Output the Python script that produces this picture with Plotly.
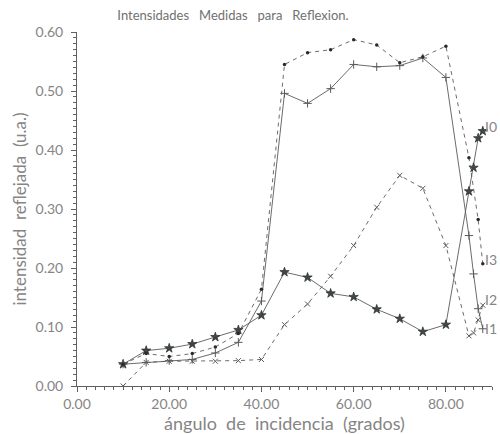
import plotly.graph_objects as go

# Angles of incidence (degrees) for each measured series
ang_i0 = [10, 15, 20, 25, 30, 35, 40, 45, 50, 55, 60, 65, 70, 75, 80, 85, 86, 87, 88]
ang_i1 = [10, 15, 20, 25, 30, 35, 40, 45, 50, 55, 60, 65, 70, 75, 80, 85, 86, 87, 88]
ang_i2 = [10, 15, 20, 25, 30, 35, 40, 45, 50, 55, 60, 65, 70, 75, 80, 85, 86, 87, 88]
ang_i3 = [10, 15, 20, 25, 30, 35, 40, 45, 50, 55, 60, 65, 70, 75, 80, 85, 87, 88]

# Reflected intensities (arbitrary units)
i0 = [0.037, 0.060, 0.064, 0.071, 0.083, 0.095, 0.120, 0.193, 0.184, 0.157,
      0.151, 0.130, 0.114, 0.092, 0.104, 0.330, 0.370, 0.420, 0.432]
i1 = [0.037, 0.040, 0.043, 0.045, 0.056, 0.074, 0.144, 0.496, 0.479, 0.504,
      0.545, 0.541, 0.543, 0.556, 0.523, 0.255, 0.190, 0.131, 0.097]
i2 = [0.000, 0.040, 0.042, 0.042, 0.042, 0.043, 0.045, 0.104, 0.139, 0.186,
      0.238, 0.303, 0.357, 0.335, 0.238, 0.085, 0.090, 0.112, 0.137]
i3 = [0.037, 0.055, 0.050, 0.055, 0.066, 0.089, 0.164, 0.545, 0.565, 0.570,
      0.587, 0.578, 0.548, 0.558, 0.576, 0.387, 0.282, 0.207]

# Series end labels and their vertical positions
end_labels = ["I0", "I1", "I2", "I3"]
end_label_y = [0.44, 0.098, 0.146, 0.215]

line_col = "#5a5a5a"
mark_col = "#333833"
text_col = "#858585"
font_fam = "Lato, 'Open Sans', sans-serif"

fig = go.Figure()

fig.add_trace(go.Scatter(
    x=ang_i0, y=i0, mode="lines+markers",
    line=dict(color=line_col, width=0.9),
    marker=dict(symbol="star", size=7, color="#3d4a40",
                line=dict(color="#2a2a2a", width=0.7)),
))
fig.add_trace(go.Scatter(
    x=ang_i1, y=i1, mode="lines+markers",
    line=dict(color=line_col, width=0.9),
    marker=dict(symbol="cross-thin-open", size=6,
                line=dict(color=mark_col, width=1)),
))
fig.add_trace(go.Scatter(
    x=ang_i2, y=i2, mode="lines+markers",
    line=dict(color=line_col, width=0.9, dash="4px,4px"),
    marker=dict(symbol="x-thin-open", size=5,
                line=dict(color=mark_col, width=1)),
))
fig.add_trace(go.Scatter(
    x=ang_i3, y=i3, mode="lines+markers",
    line=dict(color=line_col, width=0.9, dash="4px,4px"),
    marker=dict(symbol="circle", size=3.5, color="#2a2a2a"),
))

for lab, yv in zip(end_labels, end_label_y):
    fig.add_annotation(
        x=1.0, xref="paper", y=yv, yref="y", text=lab, showarrow=False,
        xanchor="right", yanchor="middle", xshift=7,
        font=dict(size=14, color=text_col, family=font_fam),
    )

axis_common = dict(
    showgrid=False, zeroline=False, showline=True,
    linecolor="#606060", linewidth=1,
    ticks="outside", ticklen=5, tickcolor="#606060", tickwidth=1,
    tickfont=dict(size=14, color=text_col, family=font_fam),
    mirror=False,
)

fig.update_layout(
    width=500, height=434,
    margin=dict(l=77, r=8, t=32, b=44),
    paper_bgcolor="white", plot_bgcolor="white",
    showlegend=False,
    title=dict(
        text="Intensidades   Medidas   para   Reflexion.",
        x=233 / 500, xanchor="center", y=1 - 15 / 434, yanchor="middle",
        font=dict(size=13, color="#707070", family=font_fam),
    ),
    xaxis=dict(
        range=[0, 90], tickvals=[0, 20, 40, 60, 80],
        ticktext=["0.00", "20.00", "40.00", "60.00", "80.00"],
        minor=dict(dtick=2, ticks="outside", ticklen=3,
                   tickcolor="#606060", showgrid=False),
        title=dict(text="ángulo  de  incidencia  (grados)", standoff=2,
                   font=dict(size=18, color=text_col, family=font_fam)),
        **axis_common,
    ),
    yaxis=dict(
        range=[0, 0.6], tickvals=[0, 0.1, 0.2, 0.3, 0.4, 0.5, 0.6],
        ticktext=["0.00", "0.10", "0.20", "0.30", "0.40", "0.50", "0.60"],
        minor=dict(dtick=0.01, ticks="outside", ticklen=3,
                   tickcolor="#606060", showgrid=False),
        ticklabelstandoff=5,
        title=dict(text="intensidad  reflejada  (u.a.)", standoff=4,
                   font=dict(size=17, color=text_col, family=font_fam)),
        **axis_common,
    ),
)

fig.write_html("out.html")
